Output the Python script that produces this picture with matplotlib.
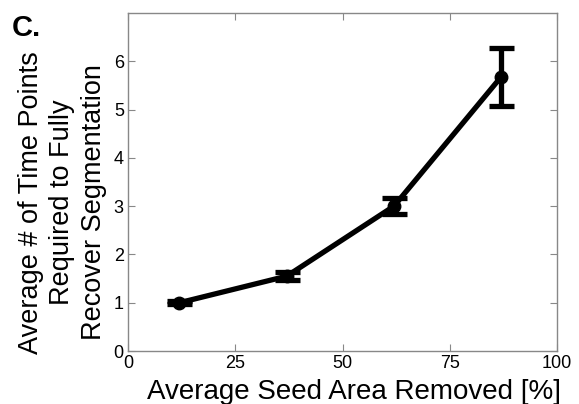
import matplotlib
matplotlib.use("Agg")
import matplotlib.pyplot as plt

plt.rcParams['font.family'] = ['Liberation Sans', 'DejaVu Sans']

seed_area_removed = [12, 37, 62, 87]
time_points = [1.0, 1.55, 3.0, 5.68]
errors = [0.03, 0.08, 0.16, 0.6]
x_ticks = [0, 25, 50, 75, 100]
y_ticks = [0, 1, 2, 3, 4, 5, 6]

fig = plt.figure(figsize=(5.79, 4.04), dpi=100)
ax = fig.add_axes([128/579, 1-351/404, (557-128)/579, (351-13)/404])

ax.errorbar(seed_area_removed, time_points, yerr=errors, color='black',
            linewidth=3.8, marker='o', markersize=9, elinewidth=3.8,
            capsize=9, capthick=3.8)

ax.set_xlim(0, 100)
ax.set_ylim(0, 7)
ax.set_xticks(x_ticks)
ax.set_yticks(y_ticks)
ax.tick_params(direction='in', top=True, right=True, labelsize=13,
               color='#888888', length=5, pad=3)
for s in ax.spines.values():
    s.set_color('#888888')
    s.set_linewidth(1.0)

ax.set_xlabel('Average Seed Area Removed [%]', fontsize=20)
ax.xaxis.set_label_coords(0.527, -0.082, transform=ax.transAxes)
ax.xaxis.label.set_va('top')
ax.set_ylabel('Average # of Time Points\nRequired to Fully\nRecover Segmentation',
              fontsize=19.5, linespacing=1.26)
ax.yaxis.set_label_coords(-0.05, 0.44)
fig.text(12/579, 1-36/404, 'C.', fontsize=21, fontweight='bold')

fig.savefig('out.png', dpi=100)
